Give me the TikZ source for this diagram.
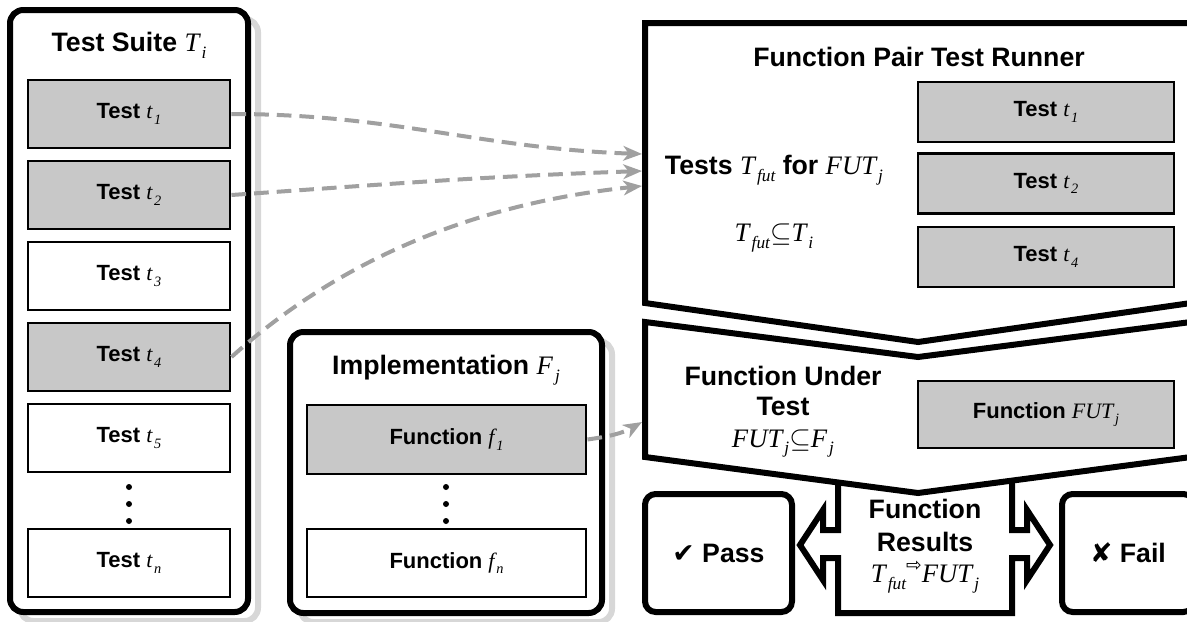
\documentclass[tikz,border=0pt]{standalone}
\usepackage{fontspec}
\setmainfont{Liberation Sans}
\newfontfamily\symfnt{Liberation Serif}
\newfontfamily\dingfnt{DejaVu Sans}
\usetikzlibrary{arrows.meta,positioning,calc}
\definecolor{boxgrey}{RGB}{200,200,200}
\definecolor{shadowgrey}{RGB}{215,215,215}
\definecolor{arrowgrey}{RGB}{160,160,160}
% italic symbol with a lowered subscript
\newcommand\vsub[2]{{\symfnt\mdseries\itshape #1\raisebox{-0.55ex}{\kern0.08em\scalebox{0.65}{#2}}}}

\begin{document}
\begin{tikzpicture}[x=0.75pt, y=-0.75pt,
    container/.style={draw, line width=4.5pt, rounded corners=10pt, fill=white, inner sep=0pt},
    shade/.style={draw=shadowgrey, line width=4.5pt, rounded corners=10pt},
    item/.style={draw, line width=2.2pt, fill=white, minimum width=202*0.75pt,
        minimum height=68*0.75pt, inner sep=0pt, font=\fontsize{16.5}{19}\selectfont\bfseries},
    picked/.style={item, fill=boxgrey},
    stage/.style={draw, line width=4.5pt, fill=white},
    title/.style={font=\fontsize{20}{23}\selectfont\bfseries, align=center, inner sep=0pt},
    verdict/.style={draw, line width=4.5pt, rounded corners=8pt, fill=white,
        font=\fontsize{20}{23}\selectfont\bfseries},
    link/.style={draw=arrowgrey, line width=3pt, dash pattern=on 11pt off 6pt,
        -{Stealth[length=14pt, width=11pt, inset=4pt]}},
    dot/.style={circle, fill, inner sep=0pt, minimum size=6*0.75pt}
]
    \useasboundingbox (0,0) rectangle (1187,621);
    \clip (0,0) rectangle (1187,621);

    % shadows
    \draw[shade] (20,19) rectangle (258,621);
    \draw[shade] (300,341) rectangle (612,622);

    % test suite
    \node[container, minimum width=238*0.75pt, minimum height=602*0.75pt] (suite) at (129,311) {};
    \node[title] (suitetitle) at (129,45) {Test Suite \vsub{T}{i}};
    \node[picked] (t1) at (129,114) {Test \vsub{t}{1}};
    \node[picked] (t2) at (129,195) {Test \vsub{t}{2}};
    \node[item] (t3) at (129,276) {Test \vsub{t}{3}};
    \node[picked] (t4) at (129,357) {Test \vsub{t}{4}};
    \node[item] (t5) at (129,438) {Test \vsub{t}{5}};
    \node[item] (tn) at (129,563) {Test \vsub{t}{n}};
    \foreach \y in {487,504,521} \node[dot] (sdot\y) at (129,\y) {};

    % implementation
    \node[container, minimum width=312*0.75pt, minimum height=281*0.75pt] (impl) at (446,472.5) {};
    \node[title] (impltitle) at (446,370) {Implementation \vsub{F}{j}};
    \node[picked, minimum width=279*0.75pt, minimum height=69*0.75pt] (f1) at (446.5,439.5) {Function \vsub{f}{1}};
    \node[item, minimum width=279*0.75pt] (fn) at (446.5,563) {Function \vsub{f}{n}};
    \foreach \y in {487,504,521} \node[dot] (idot\y) at (446,\y) {};

    % results with double arrow
    \draw[stage] (838,470) -- (838,530) -- (823,530) -- (823,510) -- (800,545) -- (823,580)
        -- (823,558) -- (838,558) -- (838,613) -- (1012,613) -- (1012,558) -- (1027,558)
        -- (1027,580) -- (1050,545) -- (1027,510) -- (1027,530) -- (1012,530) -- (1012,470) -- cycle;

    % runner and function under test
    \draw[stage] (645,23) -- (1191,23) -- (1191,303) -- (918,342) -- (645,303) -- cycle;
    \draw[stage] (645,322) -- (918,357) -- (1191,322) -- (1191,457) -- (918,493) -- (645,457) -- cycle;
    \coordinate (in1) at (642,154);
    \coordinate (in2) at (642,171);
    \coordinate (in4) at (642,186);
    \coordinate (infut) at (642,422);

    \node[title] (runner) at (919,57) {Function Pair Test Runner};
    \node[title] (tests) at (774,170) {Tests \vsub{T}{fut} for \vsub{FUT}{j}};
    \node[title] (subset) at (774,238) {\vsub{T}{fut}$\subseteq$\vsub{T}{i}};
    \node[picked, minimum width=256*0.75pt, minimum height=60*0.75pt] (r1) at (1046,112) {Test \vsub{t}{1}};
    \node[picked, minimum width=256*0.75pt, minimum height=60*0.75pt] (r2) at (1046,183.5) {Test \vsub{t}{2}};
    \node[picked, minimum width=256*0.75pt, minimum height=60*0.75pt] (r4) at (1046,257) {Test \vsub{t}{4}};

    \node[title, font=\fontsize{20}{22.5}\selectfont\bfseries] (fut) at (783,412)
        {Function Under\\Test\\[1pt]\vsub{FUT}{j}$\subseteq$\vsub{F}{j}};
    \node[picked, minimum width=256*0.75pt, minimum height=67*0.75pt] (futbox) at (1046,414.5) {Function \vsub{FUT}{j}};

    \node[title, font=\fontsize{20}{24.5}\selectfont\bfseries] (results) at (925,546)
        {Function\\Results\\[-1pt]\vsub{T}{fut}\raisebox{0.8ex}{\scalebox{0.7}{\dingfnt\mdseries ⇨}}\vsub{FUT}{j}};

    \node[verdict, minimum width=147*0.75pt, minimum height=118*0.75pt] (pass) at (718.5,553) {{\dingfnt\mdseries ✔} Pass};
    \node[verdict, minimum width=132*0.75pt, minimum height=118*0.75pt] (fail) at (1128,553) {{\dingfnt\mdseries ✘} Fail};

    % selected tests and function
    \draw[link] (t1.east) to[out=0, in=178] (in1);
    \draw[link] (t2.east) to[out=4, in=182] (in2);
    \draw[link] (t4.east) to[out=42, in=186, looseness=0.9] (in4);
    \draw[link] (f1.east) to[out=8, in=210] (infut);
\end{tikzpicture}
\end{document}
